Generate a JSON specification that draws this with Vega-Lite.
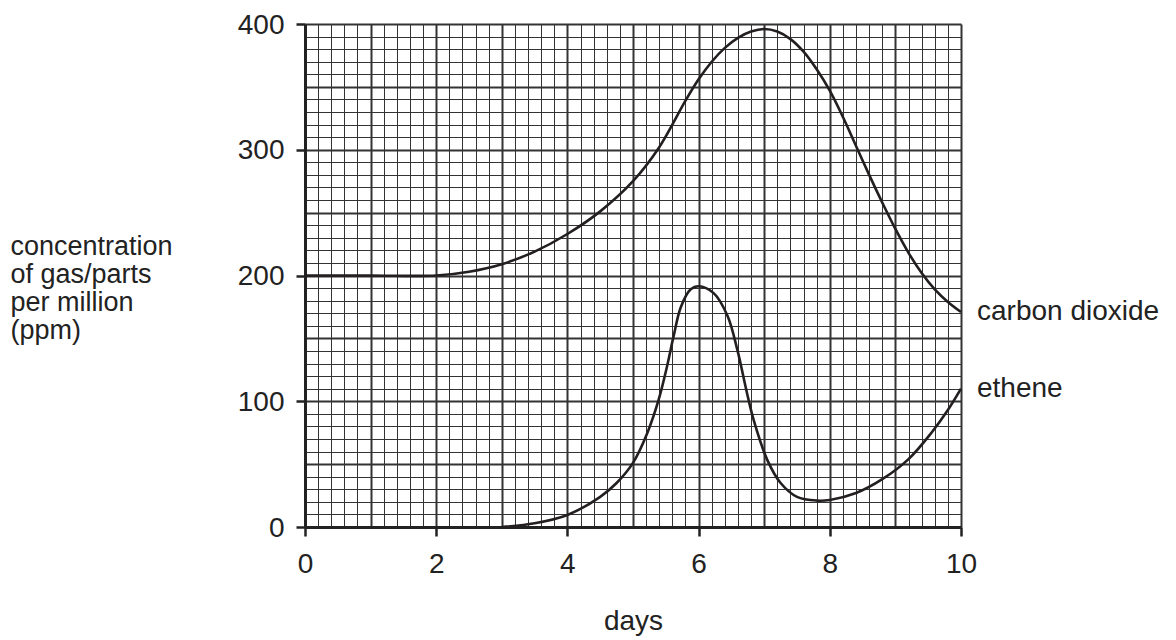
{
  "$schema": "https://vega.github.io/schema/vega-lite/v6.json",
  "width": 656,
  "height": 503,
  "autosize": {"type": "none"},
  "padding": {"left": 305, "top": 24, "right": 215, "bottom": 113},
  "background": "white",
  "config": {"view": {"stroke": null}},
  "data": {
    "values": [
      {"series": "carbon dioxide", "day": 0, "ppm": 200},
      {"series": "carbon dioxide", "day": 1, "ppm": 200},
      {"series": "carbon dioxide", "day": 2, "ppm": 200},
      {"series": "carbon dioxide", "day": 2.5, "ppm": 203},
      {"series": "carbon dioxide", "day": 3, "ppm": 209},
      {"series": "carbon dioxide", "day": 3.5, "ppm": 219},
      {"series": "carbon dioxide", "day": 4, "ppm": 233},
      {"series": "carbon dioxide", "day": 4.5, "ppm": 251},
      {"series": "carbon dioxide", "day": 5, "ppm": 275},
      {"series": "carbon dioxide", "day": 5.4, "ppm": 302},
      {"series": "carbon dioxide", "day": 5.8, "ppm": 339},
      {"series": "carbon dioxide", "day": 6, "ppm": 356},
      {"series": "carbon dioxide", "day": 6.2, "ppm": 370},
      {"series": "carbon dioxide", "day": 6.4, "ppm": 381},
      {"series": "carbon dioxide", "day": 6.6, "ppm": 389},
      {"series": "carbon dioxide", "day": 6.8, "ppm": 394},
      {"series": "carbon dioxide", "day": 7, "ppm": 396},
      {"series": "carbon dioxide", "day": 7.2, "ppm": 394},
      {"series": "carbon dioxide", "day": 7.4, "ppm": 388},
      {"series": "carbon dioxide", "day": 7.6, "ppm": 378},
      {"series": "carbon dioxide", "day": 7.8, "ppm": 364},
      {"series": "carbon dioxide", "day": 8, "ppm": 347},
      {"series": "carbon dioxide", "day": 8.2, "ppm": 326},
      {"series": "carbon dioxide", "day": 8.4, "ppm": 303},
      {"series": "carbon dioxide", "day": 8.6, "ppm": 280},
      {"series": "carbon dioxide", "day": 8.8, "ppm": 258},
      {"series": "carbon dioxide", "day": 9, "ppm": 237},
      {"series": "carbon dioxide", "day": 9.2, "ppm": 218},
      {"series": "carbon dioxide", "day": 9.4, "ppm": 202},
      {"series": "carbon dioxide", "day": 9.6, "ppm": 189},
      {"series": "carbon dioxide", "day": 9.8, "ppm": 179},
      {"series": "carbon dioxide", "day": 10, "ppm": 171},
      {"series": "ethene", "day": 3, "ppm": 0},
      {"series": "ethene", "day": 3.5, "ppm": 3},
      {"series": "ethene", "day": 4, "ppm": 9.6},
      {"series": "ethene", "day": 4.5, "ppm": 24},
      {"series": "ethene", "day": 4.75, "ppm": 35},
      {"series": "ethene", "day": 5, "ppm": 51},
      {"series": "ethene", "day": 5.22, "ppm": 75},
      {"series": "ethene", "day": 5.39, "ppm": 101},
      {"series": "ethene", "day": 5.52, "ppm": 128},
      {"series": "ethene", "day": 5.62, "ppm": 152},
      {"series": "ethene", "day": 5.73, "ppm": 175},
      {"series": "ethene", "day": 5.88, "ppm": 189},
      {"series": "ethene", "day": 6, "ppm": 191.5},
      {"series": "ethene", "day": 6.23, "ppm": 186},
      {"series": "ethene", "day": 6.44, "ppm": 168},
      {"series": "ethene", "day": 6.59, "ppm": 141},
      {"series": "ethene", "day": 6.74, "ppm": 106},
      {"series": "ethene", "day": 6.84, "ppm": 85},
      {"series": "ethene", "day": 7.05, "ppm": 53},
      {"series": "ethene", "day": 7.25, "ppm": 35},
      {"series": "ethene", "day": 7.5, "ppm": 24},
      {"series": "ethene", "day": 7.8, "ppm": 21},
      {"series": "ethene", "day": 8, "ppm": 21.5},
      {"series": "ethene", "day": 8.4, "ppm": 27},
      {"series": "ethene", "day": 8.8, "ppm": 38},
      {"series": "ethene", "day": 9.2, "ppm": 54},
      {"series": "ethene", "day": 9.55, "ppm": 75},
      {"series": "ethene", "day": 9.8, "ppm": 93},
      {"series": "ethene", "day": 10, "ppm": 110}
    ]
  },
  "encoding": {
    "x": {
      "field": "day",
      "type": "quantitative",
      "scale": {"domain": [0, 10], "nice": false, "zero": true},
      "axis": {
        "values": [0, 0.2, 0.4, 0.6, 0.8, 1, 1.2, 1.4, 1.6, 1.8, 2, 2.2, 2.4, 2.6, 2.8, 3, 3.2, 3.4, 3.6, 3.8, 4, 4.2, 4.4, 4.6, 4.8, 5, 5.2, 5.4, 5.6, 5.8, 6, 6.2, 6.4, 6.6, 6.8, 7, 7.2, 7.4, 7.6, 7.8, 8, 8.2, 8.4, 8.6, 8.8, 9, 9.2, 9.4, 9.6, 9.8, 10],
        "grid": true,
        "gridColor": "#333333",
        "gridWidth": {"condition": {"test": "abs(datum.value - round(datum.value)) < 0.001", "value": 2}, "value": 1},
        "tickOpacity": {"condition": {"test": "abs(datum.value / 2 - round(datum.value / 2)) < 0.001", "value": 1}, "value": 0},
        "tickSize": 9,
        "tickWidth": 2.5,
        "tickColor": "#222222",
        "labelExpr": "abs(datum.value / 2 - round(datum.value / 2)) < 0.001 ? format(datum.value, 'd') : ''",
        "labelOverlap": false,
        "labelFlush": false,
        "labelFont": "Liberation Sans",
        "labelFontSize": 28,
        "labelColor": "#222222",
        "labelPadding": 14,
        "domainColor": "#222222",
        "domainWidth": 3,
        "title": "days",
        "titleFont": "Liberation Sans",
        "titleFontSize": 28,
        "titleFontWeight": "normal",
        "titleColor": "#222222",
        "titleBaseline": "top",
        "titleY": 80
      }
    },
    "y": {
      "field": "ppm",
      "type": "quantitative",
      "scale": {"domain": [0, 400], "nice": false},
      "axis": {
        "values": [0, 10, 20, 30, 40, 50, 60, 70, 80, 90, 100, 110, 120, 130, 140, 150, 160, 170, 180, 190, 200, 210, 220, 230, 240, 250, 260, 270, 280, 290, 300, 310, 320, 330, 340, 350, 360, 370, 380, 390, 400],
        "grid": true,
        "gridColor": "#333333",
        "gridWidth": {"condition": {"test": "datum.value % 50 === 0", "value": 2}, "value": 1},
        "tickOpacity": {"condition": {"test": "datum.value % 100 === 0", "value": 1}, "value": 0},
        "tickSize": 9,
        "tickWidth": 2.5,
        "tickColor": "#222222",
        "labelExpr": "datum.value % 100 === 0 ? format(datum.value, 'd') : ''",
        "labelOverlap": false,
        "labelFlush": false,
        "labelFont": "Liberation Sans",
        "labelFontSize": 28,
        "labelColor": "#222222",
        "labelPadding": 12,
        "labelOffset": 1,
        "domainColor": "#222222",
        "domainWidth": 3,
        "title": ["concentration", "of gas/parts", "per million", "(ppm)"],
        "titleFont": "Liberation Sans",
        "titleFontSize": 27,
        "titleFontWeight": "normal",
        "titleColor": "#222222",
        "titleAngle": 0,
        "titleAlign": "left",
        "titleBaseline": "top",
        "titleLineHeight": 28,
        "titleX": -295,
        "titleY": 209
      }
    }
  },
  "layer": [
    {
      "mark": {"type": "line", "interpolate": "catmull-rom", "color": "#231f20", "strokeWidth": 2.6, "clip": false},
      "encoding": {"detail": {"field": "series", "type": "nominal"}}
    },
    {
      "transform": [{"filter": "datum.day === 10"}],
      "mark": {"type": "text", "align": "left", "baseline": "alphabetic", "dx": 16, "dy": 8, "font": "Liberation Sans", "fontSize": 28, "color": "#222222"},
      "encoding": {"text": {"field": "series", "type": "nominal"}}
    }
  ]
}
